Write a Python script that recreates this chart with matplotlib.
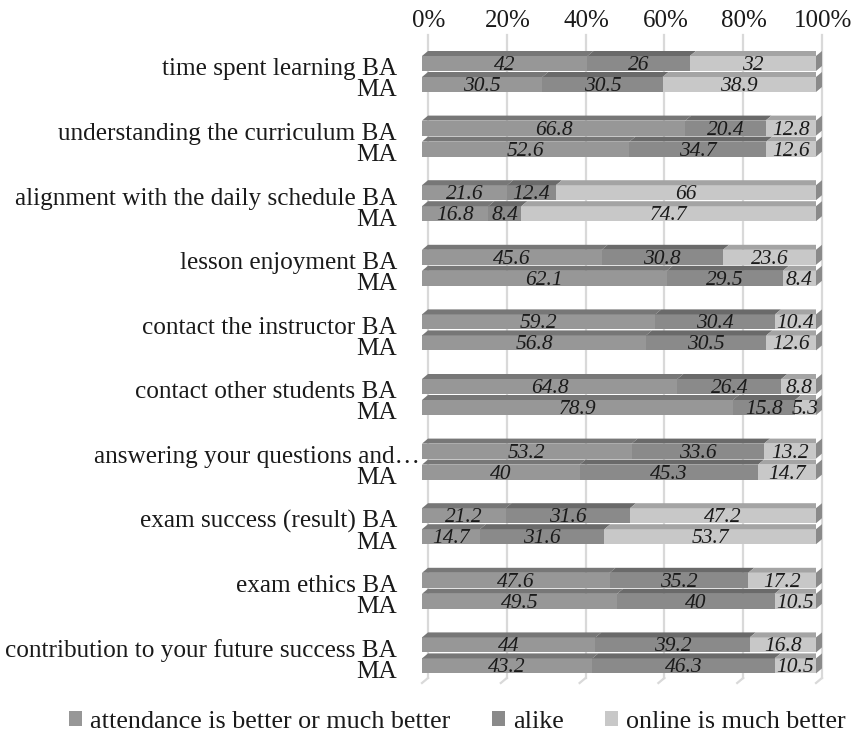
import matplotlib
matplotlib.use("Agg")
import matplotlib.pyplot as plt
import matplotlib.transforms as mtransforms
from matplotlib.patches import Polygon, Patch
import numpy as np

plt.rcParams["font.family"] = ["Liberation Serif", "DejaVu Serif"]

categories = [
    "time spent learning",
    "understanding the curriculum",
    "alignment with the daily schedule",
    "lesson enjoyment",
    "contact the instructor",
    "contact other students",
    "answering your questions and\u2026",
    "exam success (result)",
    "exam ethics",
    "contribution to your future success",
]
series_names = ["attendance is better or much better", "alike", "online is much better"]

ba_attendance = [42, 66.8, 21.6, 45.6, 59.2, 64.8, 53.2, 21.2, 47.6, 44]
ba_alike = [26, 20.4, 12.4, 30.8, 30.4, 26.4, 33.6, 31.6, 35.2, 39.2]
ba_online = [32, 12.8, 66, 23.6, 10.4, 8.8, 13.2, 47.2, 17.2, 16.8]

ma_attendance = [30.5, 52.6, 16.8, 62.1, 56.8, 78.9, 40, 14.7, 49.5, 43.2]
ma_alike = [30.5, 34.7, 8.4, 29.5, 30.5, 15.8, 45.3, 31.6, 40, 46.3]
ma_online = [38.9, 12.6, 74.7, 8.4, 12.6, 5.3, 14.7, 53.7, 10.5, 10.5]

xticks = [0, 20, 40, 60, 80, 100]
xtick_labels = ["0%", "20%", "40%", "60%", "80%", "100%"]

front_colors = ["#979797", "#8a8a8a", "#c8c8c8"]
top_colors = ["#777777", "#6a6a6a", "#a4a4a4"]
side_colors = ["#7e7e7e", "#707070", "#8a8a8a"]
grid_color = "#d9d9d9"
text_color = "#1a1a1a"

W, H, DPI = 860, 747, 100
fig = plt.figure(figsize=(W / DPI, H / DPI), dpi=DPI)


def shift(px_x, px_y):
    return mtransforms.ScaledTranslation(px_x / DPI, px_y / DPI, fig.dpi_scale_trans)


# plot area (front plane) in pixels
px_left, px_right = 422, 816
px_top, px_bottom = 40, 683
ax = fig.add_axes([px_left / W, 1 - px_bottom / H,
                   (px_right - px_left) / W, (px_bottom - px_top) / H])

group_px = 64.6
first_center_px = 74.0
ymin = (px_top - first_center_px) / group_px
ymax = (px_bottom - first_center_px) / group_px
ax.set_xlim(0, 100)
ax.set_ylim(ymax, ymin)
ax.axis("off")

# depth of the 3-D effect
depth_dx_px, depth_dy_px = 6, 5
dxd = depth_dx_px / (px_right - px_left) * 100
dyd = depth_dy_px / group_px
back = ax.transData + shift(depth_dx_px, depth_dy_px)

# back-wall gridlines and floor edges
for xv in xticks:
    ax.plot([xv, xv], [ymin, ymax], color=grid_color, lw=1.6, transform=back,
            clip_on=False, zorder=0)
    ax.plot([xv, xv + dxd], [ymax, ymax - dyd], color=grid_color, lw=1.6,
            clip_on=False, zorder=0)

# percentage labels along the top
for xv, lab in zip(xticks, xtick_labels):
    ax.text(xv, ymin, lab, transform=back + shift(1, 8), ha="center", va="baseline",
            fontsize=18, color=text_color, clip_on=False)

bar_h = 15 / group_px
offset = 10.5 / group_px
n = len(categories)
rows = []
for i in range(n):
    rows.append((i - offset, [ba_attendance[i], ba_alike[i], ba_online[i]]))
    rows.append((i + offset, [ma_attendance[i], ma_alike[i], ma_online[i]]))

value_tr = ax.transData + shift(0, -6.5)
z = 2
for y, vals in rows:
    vals = np.array(vals, dtype=float)
    shares = vals / vals.sum() * 100
    lefts = np.concatenate([[0], np.cumsum(shares)[:-1]])
    ax.barh(y, shares, left=lefts, height=bar_h, color=front_colors,
            edgecolor="none", zorder=z)
    yt = y - bar_h / 2
    for k in range(3):
        x0, x1 = lefts[k], lefts[k] + shares[k]
        ax.add_patch(Polygon([(x0, yt), (x1, yt), (x1 + dxd, yt - dyd), (x0 + dxd, yt - dyd)],
                             closed=True, facecolor=top_colors[k], edgecolor="none", zorder=z))
    xe = lefts[-1] + shares[-1]
    ax.add_patch(Polygon([(xe, yt), (xe + dxd, yt - dyd), (xe + dxd, yt + bar_h - dyd),
                          (xe, yt + bar_h)], closed=True, facecolor=side_colors[2],
                         edgecolor="none", zorder=z, clip_on=False))
    for k in range(3):
        ax.text(lefts[k] + shares[k] / 2, y, f"{vals[k]:g}", transform=value_tr,
                ha="center", va="baseline", fontsize=15.5, style="italic",
                color=text_color, zorder=z + 1)

# category labels
lab_tr = ax.transData + shift(-25, -12)
for i, cat in enumerate(categories):
    truncated = cat.endswith("\u2026")
    ba_label = cat if truncated else f"{cat} BA"
    tr = ax.transData + shift(-2, -12) if truncated else lab_tr
    ax.text(0, i - offset, ba_label, transform=tr, ha="right", va="baseline",
            fontsize=18.2, color=text_color, clip_on=False)
    ax.text(0, i + offset, "MA", transform=lab_tr, ha="right", va="baseline",
            fontsize=18.2, color=text_color, clip_on=False)

handles = [Patch(facecolor=c, edgecolor="none") for c in front_colors]
fig.legend(handles, series_names, loc="center", bbox_to_anchor=(0.532, 1 - 722 / H),
           ncol=3, frameon=False, fontsize=18.8, handlelength=0.5, handleheight=0.5,
           handletextpad=0.3, columnspacing=1.6, borderpad=0, labelcolor=text_color)

fig.savefig("out.png", dpi=DPI)
